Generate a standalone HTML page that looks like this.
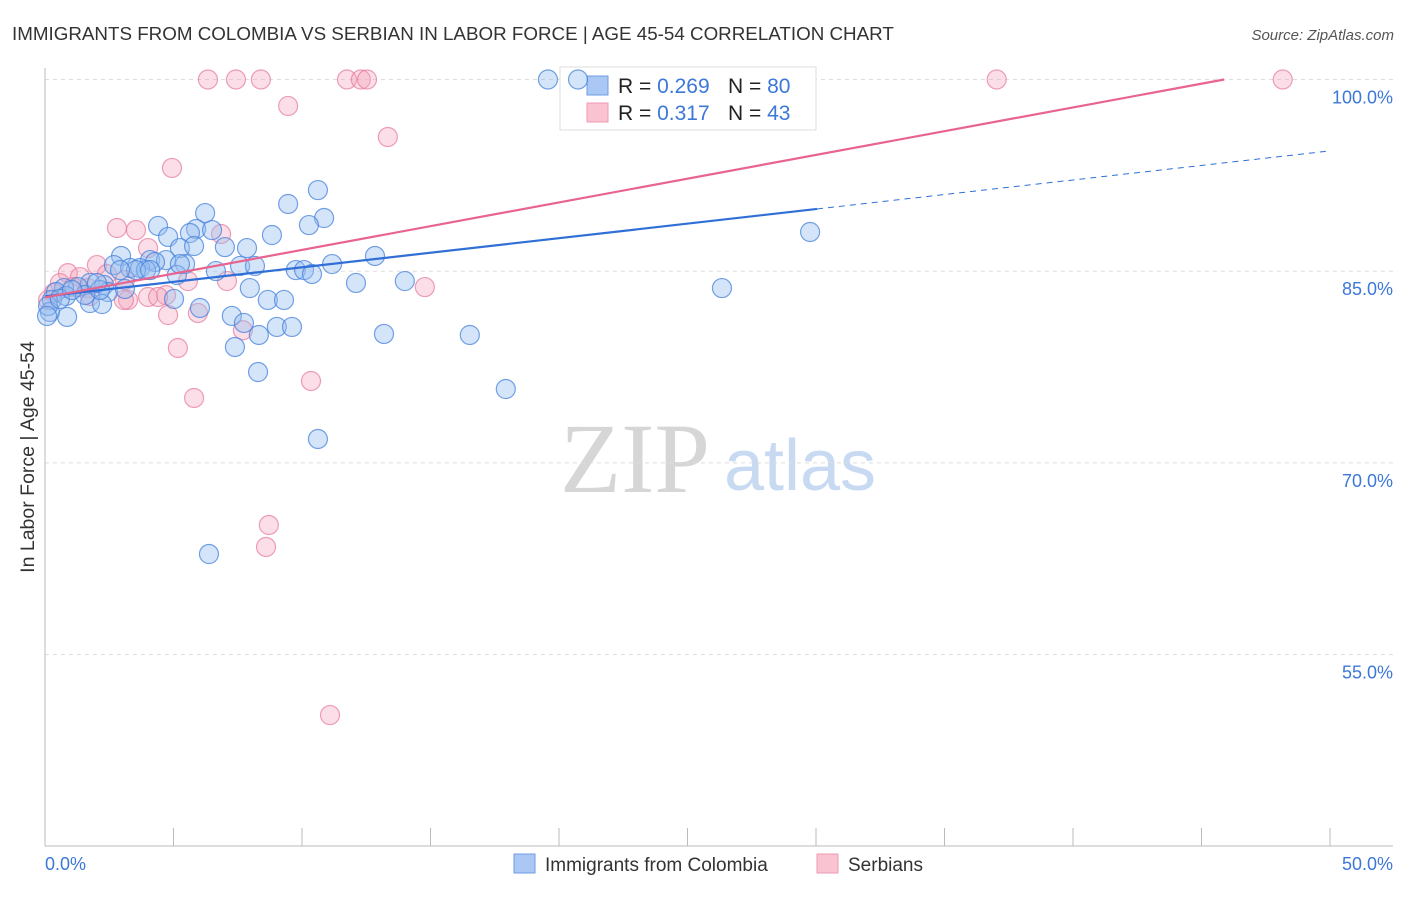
<!DOCTYPE html>
<html><head><meta charset="utf-8"><style>
body{margin:0;background:#fff;font-family:"Liberation Sans",sans-serif;}
svg text{font-family:"Liberation Sans",sans-serif;}
</style></head><body>
<svg id="chart" width="1406" height="892" viewBox="0 0 1406 892" xmlns="http://www.w3.org/2000/svg">
<text x="12" y="40" font-size="18.8" fill="#333">IMMIGRANTS FROM COLOMBIA VS SERBIAN IN LABOR FORCE | AGE 45-54 CORRELATION CHART</text>
<text x="1394" y="40" font-size="15" fill="#555" font-style="italic" text-anchor="end">Source: ZipAtlas.com</text>
<g>
<text x="635" y="492" font-size="100" fill="#d6d6d6" text-anchor="middle" style="font-family:'Liberation Serif',serif">ZIP</text>
<text x="800" y="490" font-size="72" fill="#c8daf2" text-anchor="middle">atlas</text>
</g>
<g id="grid"></g>
<g id="axes"></g>
<g>
<rect x="560" y="67" width="256" height="63" fill="#fff" stroke="#ddd"/>
<rect x="587" y="76" width="21" height="19" fill="#aac8f3" stroke="#6f9de6"/>
<rect x="587" y="103" width="21" height="19" fill="#f9c3d2" stroke="#ee9ab3"/>
<text x="618" y="93" font-size="21" fill="#222">R = <tspan fill="#3b78d8">0.269</tspan></text>
<text x="728" y="93" font-size="21" fill="#222">N = <tspan fill="#3b78d8">80</tspan></text>
<text x="618" y="120" font-size="21" fill="#222">R =  <tspan fill="#3b78d8">0.317</tspan></text>
<text x="728" y="120" font-size="21" fill="#222">N = <tspan fill="#3b78d8">43</tspan></text>
</g>
<g id="pts"></g>
<g id="lines"></g>
<text transform="translate(34,457) rotate(-90)" font-size="19.5" fill="#333" text-anchor="middle">In Labor Force | Age 45-54</text>
<g>
<rect x="514" y="854" width="21" height="19" fill="#aac8f3" stroke="#6f9de6"/>
<text x="545" y="871" font-size="19" fill="#333">Immigrants from Colombia</text>
<rect x="817" y="854" width="21" height="19" fill="#f9c3d2" stroke="#ee9ab3"/>
<text x="848" y="871" font-size="19" fill="#333">Serbians</text>
</g>
</svg>
<script>
const blueX=[19.57,20.74,29.77,26.34,10.62,9.46,10.86,6.23,4.40,5.88,6.50,5.64,4.79,8.83,10.27,5.25,5.80,7.00,7.86,12.84,2.96,4.09,4.71,5.45,4.28,2.68,3.31,3.70,3.93,3.54,11.17,7.59,8.17,6.65,9.76,10.08,10.39,5.13,12.10,14.00,7.97,1.75,1.28,2.30,0.74,0.43,2.45,3.11,0.27,0.82,1.75,2.22,8.67,9.30,5.02,6.03,7.27,7.74,0.86,0.19,9.02,9.61,8.32,13.19,16.53,7.39,8.29,17.93,10.62,6.38,1.56,0.12,0.08,0.58,1.05,5.25,4.09,2.92,2.14,2.02];
const blueY=[100,100,88.07,83.68,91.35,90.26,89.16,89.55,88.54,88.30,88.22,87.99,87.68,87.83,88.61,86.81,86.97,86.89,86.81,86.19,86.19,85.87,85.87,85.56,85.72,85.48,85.25,85.25,85.09,85.09,85.56,85.41,85.41,85.01,85.09,85.09,84.78,84.70,84.08,84.23,83.68,84.08,83.76,83.92,83.68,83.37,83.37,83.61,82.75,83.06,82.51,82.43,82.75,82.75,82.83,82.12,81.50,80.95,81.42,81.81,80.64,80.64,80.01,80.09,80.01,79.07,77.11,75.78,71.87,62.87,83.14,82.28,81.50,82.83,83.53,85.56,85.09,85.09,83.53,84.08];
const pinkX=[6.34,7.43,8.40,11.75,12.29,12.53,37.03,48.16,9.46,13.34,4.94,2.80,3.54,6.85,4.01,2.02,0.89,1.36,2.41,3.11,0.58,1.09,1.67,0.35,4.71,4.01,3.23,4.40,3.07,5.95,4.79,7.70,14.78,7.08,5.56,5.17,10.35,5.80,8.71,8.60,11.09,0.12,1.75];
const pinkY=[100,100,100,100,100,100,100,100,97.93,95.50,93.08,88.38,88.22,87.91,86.81,85.48,84.85,84.54,84.77,84.30,84.07,83.76,83.68,83.29,83.13,82.98,82.75,82.98,82.75,81.73,81.57,80.38,83.76,84.23,84.23,78.99,76.41,75.08,65.14,63.42,50.27,82.75,83.06];
const yTicks=[100,85,70,55];
const yTickLabels=["100.0%","85.0%","70.0%","55.0%"];
const blueTrend=[83.03,0.2277,30.04];
const pinkTrend=[82.95,0.3716];
const NS='http://www.w3.org/2000/svg';
const sx=v=>45+v/50*1285;
const sy=v=>79.5+(100-v)*12.78;
function mk(tag,attrs,parent){const e=document.createElementNS(NS,tag);for(const k in attrs)e.setAttribute(k,attrs[k]);parent.appendChild(e);return e;}
const grid=document.getElementById('grid'),axes=document.getElementById('axes');
yTicks.forEach((t,i)=>{
 const l=mk('line',{x1:45,x2:1393,y1:sy(t),y2:sy(t),stroke:'#ddd','stroke-dasharray':'4 4'},grid);
 
 
 const tx=mk('text',{x:1393,y:sy(t)+24,'font-size':18,fill:'#3b78d8','text-anchor':'end'},axes);
 tx.textContent=yTickLabels[i];
 
 
});
const ax=mk('line',{x1:45,x2:45,y1:68,y2:846,stroke:'#bbb'},axes);


const bx=mk('line',{x1:45,x2:1393,y1:846,y2:846,stroke:'#bbb'},axes);


for(let i=0;i<=10;i++){const t=mk('line',{x1:sx(i*5),x2:sx(i*5),y1:828,y2:846,stroke:'#bbb'},axes);
 
 }
[["0.0%",45,'start'],["50.0%",1393,'end']].forEach(a=>{const t=mk('text',{x:a[1],y:870,'font-size':18,fill:'#3b78d8','text-anchor':a[2]},axes);t.textContent=a[0];
 
 });
const pts=document.getElementById('pts');
pinkX.forEach((x,i)=>{const c=mk('circle',{cx:sx(x),cy:sy(pinkY[i]),r:9.5,fill:'rgba(244,160,186,0.35)',stroke:'rgba(230,120,155,0.7)','stroke-width':1.2},pts);
 
 });
blueX.forEach((x,i)=>{const c=mk('circle',{cx:sx(x),cy:sy(blueY[i]),r:9.5,fill:'rgba(150,190,240,0.4)',stroke:'rgba(70,130,220,0.75)','stroke-width':1.2},pts);
 
 });
const lines=document.getElementById('lines');
const bl=mk('line',{x1:sx(0),y1:sy(blueTrend[0]),x2:sx(blueTrend[2]),y2:sy(blueTrend[0]+blueTrend[1]*blueTrend[2]),stroke:'#2f6fd6','stroke-width':2.2},lines);


const bd=mk('line',{x1:sx(blueTrend[2]),y1:sy(blueTrend[0]+blueTrend[1]*blueTrend[2]),x2:sx(50),y2:sy(blueTrend[0]+blueTrend[1]*50),stroke:'#2f6fd6','stroke-width':1,'stroke-dasharray':'6 5'},lines);


const pEnd=Math.min(50,(100-pinkTrend[0])/pinkTrend[1]);
const pl=mk('line',{x1:sx(0),y1:sy(pinkTrend[0]),x2:sx(pEnd),y2:sy(pinkTrend[0]+pinkTrend[1]*pEnd),stroke:'#e8648e','stroke-width':2.2},lines);


</script>
</body></html>
